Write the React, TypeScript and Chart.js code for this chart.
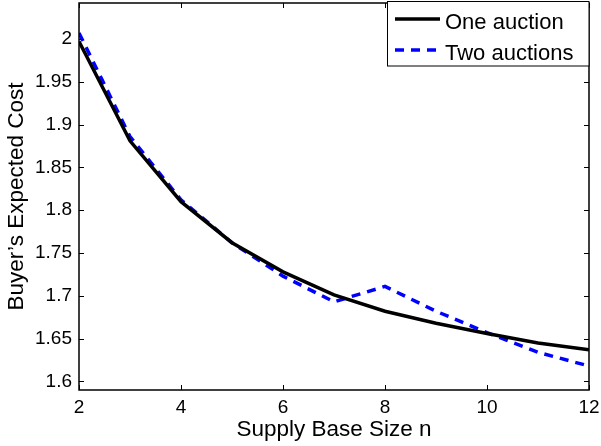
import React, { useEffect, useRef } from "react";
import { Chart, registerables } from "chart.js";

Chart.register(...registerables);

const supplyBase = [2, 3, 4, 5, 6, 7, 8, 9, 10, 11, 12];
const oneAuction = [1.997, 1.881, 1.810, 1.762, 1.728, 1.701, 1.682, 1.668, 1.656, 1.645, 1.637];
const twoAuctions = [2.007, 1.886, 1.812, 1.762, 1.723, 1.693, 1.711, 1.682, 1.657, 1.634, 1.618];
const xTicks = [2, 4, 6, 8, 10, 12];
const yTicks = [1.6, 1.65, 1.7, 1.75, 1.8, 1.85, 1.9, 1.95, 2];
const seriesNames = ["One auction", "Two auctions"];

const FONT = "'Liberation Sans', Arial, Helvetica, sans-serif";

const boxTicksPlugin = {
  id: "boxTicks",
  afterDatasetsDraw(chart: any) {
    const { ctx, chartArea, scales } = chart;
    const { left, right, top, bottom } = chartArea;
    ctx.save();
    ctx.strokeStyle = "#000";
    ctx.lineWidth = 1;
    const len = 5;
    xTicks.forEach((v) => {
      const x = Math.round(scales.x.getPixelForValue(v)) + 0.5;
      ctx.beginPath();
      ctx.moveTo(x, bottom);
      ctx.lineTo(x, bottom - len);
      ctx.moveTo(x, top);
      ctx.lineTo(x, top + len);
      ctx.stroke();
    });
    yTicks.forEach((v) => {
      const y = Math.round(scales.y.getPixelForValue(v)) + 0.5;
      ctx.beginPath();
      ctx.moveTo(left, y);
      ctx.lineTo(left + len, y);
      ctx.moveTo(right, y);
      ctx.lineTo(right - len, y);
      ctx.stroke();
    });
    ctx.lineWidth = 1.5;
    ctx.strokeRect(left, top, right - left, bottom - top);

    // legend
    const lx = 387.5, ly = 1.5, lw = 201.5, lh = 64.5;
    ctx.fillStyle = "#fff";
    ctx.fillRect(lx, ly, lw, lh);
    ctx.lineWidth = 1;
    ctx.strokeRect(lx, ly, lw, lh);
    const rows = [
      { name: seriesNames[0], color: "#000", dash: [] as number[], y: 19, base: 28.5 },
      { name: seriesNames[1], color: "#0000ff", dash: [9, 7], y: 50, base: 59.5 },
    ];
    rows.forEach((r) => {
      ctx.beginPath();
      ctx.setLineDash(r.dash);
      ctx.strokeStyle = r.color;
      ctx.lineWidth = 3.5;
      ctx.moveTo(395, r.y);
      ctx.lineTo(440, r.y);
      ctx.stroke();
      ctx.setLineDash([]);
      ctx.fillStyle = "#000";
      ctx.font = `22px ${FONT}`;
      ctx.textBaseline = "alphabetic";
      ctx.textAlign = "left";
      ctx.fillText(r.name, 445, r.base);
    });
    ctx.restore();
  },
};

export default function App() {
  const ref = useRef<HTMLCanvasElement | null>(null);
  useEffect(() => {
    document.body.style.margin = "0";
    const canvas = ref.current!;
    const chart = new Chart(canvas, {
      type: "line",
      data: {
        datasets: [
          {
            label: seriesNames[0],
            data: supplyBase.map((x, i) => ({ x, y: oneAuction[i] })),
            borderColor: "#000",
            borderWidth: 3.5,
            pointRadius: 0,
            fill: false,
            tension: 0,
          },
          {
            label: seriesNames[1],
            data: supplyBase.map((x, i) => ({ x, y: twoAuctions[i] })),
            borderColor: "#0000ff",
            borderWidth: 3.5,
            borderDash: [9, 7],
            pointRadius: 0,
            fill: false,
            tension: 0,
          },
        ],
      },
      options: {
        animation: false,
        responsive: false,
        devicePixelRatio: 1,
        layout: { padding: { left: 0, right: 12, top: 3, bottom: 0 } },
        plugins: { legend: { display: false }, tooltip: { enabled: false } },
        scales: {
          x: {
            type: "linear",
            min: 2,
            max: 12,
            grid: { display: false, drawTicks: false },
            border: { display: false },
            afterBuildTicks: (s: any) => {
              s.ticks = xTicks.map((v) => ({ value: v }));
            },
            afterFit: (s: any) => {
              s.height = 56;
              s.paddingLeft = 0;
              s.paddingRight = 0;
            },
            ticks: {
              color: "#000",
              font: { family: FONT, size: 19 },
              padding: 6,
              maxRotation: 0,
              autoSkip: false,
              callback: (v: any) => String(v),
            },
            title: {
              display: true,
              text: "Supply Base Size n",
              color: "#000",
              font: { family: FONT, size: 22.5 },
              padding: { top: 0, bottom: 3 },
            },
          },
          y: {
            type: "linear",
            min: 1.59,
            max: 2.042,
            grid: { display: false, drawTicks: false },
            border: { display: false },
            afterBuildTicks: (s: any) => {
              s.ticks = yTicks.map((v) => ({ value: v }));
            },
            afterFit: (s: any) => {
              s.width = 79;
              s.paddingTop = 0;
              s.paddingBottom = 0;
            },
            ticks: {
              color: "#000",
              font: { family: FONT, size: 19 },
              padding: 7,
              autoSkip: false,
              callback: (v: any) => String(Math.round(v * 100) / 100),
            },
            title: {
              display: true,
              text: "Buyer\u2019s Expected Cost",
              color: "#000",
              font: { family: FONT, size: 22.5 },
              padding: { top: 3, bottom: 0 },
            },
          },
        },
      },
      plugins: [boxTicksPlugin],
    });
    return () => chart.destroy();
  }, []);
  return (
    <div style={{ position: "absolute", left: 0, top: 0, width: 601, height: 446, background: "#fff" }}>
      <canvas ref={ref} width={601} height={446} style={{ width: 601, height: 446 }} />
    </div>
  );
}
